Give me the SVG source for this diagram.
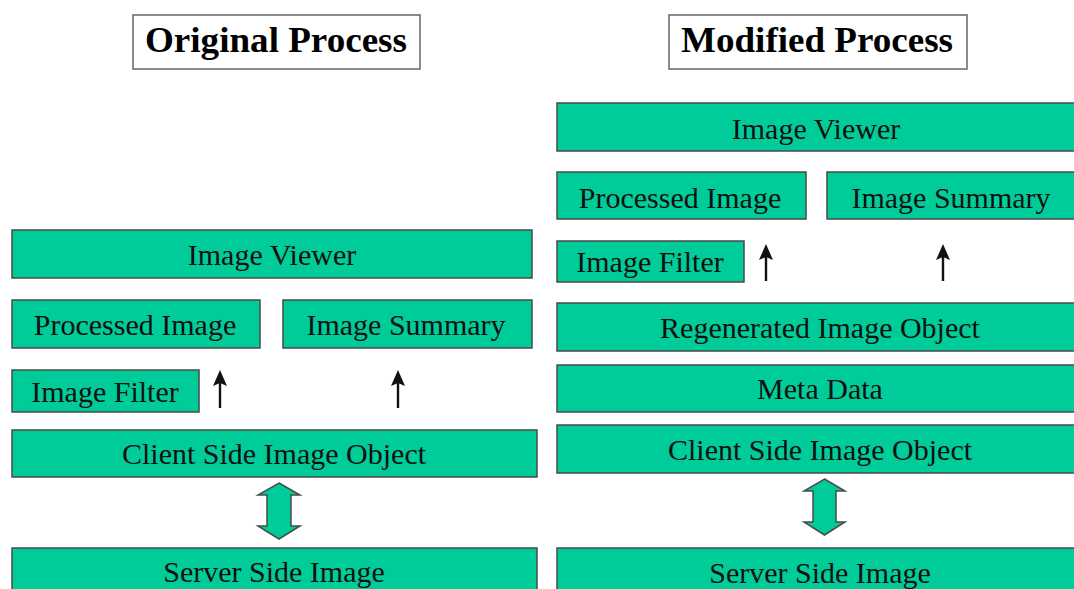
<svg xmlns="http://www.w3.org/2000/svg" width="1074" height="589" viewBox="0 0 1074 589">
<style>
.box{fill:#00CC99;stroke:#4a4a4a;stroke-width:1.5}
.title{fill:#fff;stroke:#666;stroke-width:1.5}
.t{font-family:"Liberation Serif","Times New Roman",serif;font-size:30px;fill:#111;text-anchor:middle}
.tt{font-family:"Liberation Serif","Times New Roman",serif;font-size:35px;font-weight:bold;fill:#000;text-anchor:middle}
.ar{stroke:#111;stroke-width:2.4;fill:none}
.head{fill:#111}
.dbl{fill:#00CC99;stroke:#4a4a4a;stroke-width:1.5}
</style>
<defs>
<path id="uphead" d="M0,0 L7,16 L0,13 L-7,16 Z"/>
</defs>
<rect width="1074" height="589" fill="#fff"/>

<g id="title-original"><rect class="title" x="133" y="15" width="287" height="54"/><text class="tt" x="276" y="52" textLength="262" lengthAdjust="spacingAndGlyphs">Original Process</text></g>
<g id="title-modified"><rect class="title" x="669" y="15" width="298" height="54"/><text class="tt" x="817" y="52" textLength="272" lengthAdjust="spacingAndGlyphs">Modified Process</text></g>

<!-- Original process -->
<g id="o-viewer"><rect class="box" x="12" y="230" width="520" height="48"/><text class="t" x="272" y="265">Image Viewer</text></g>
<g id="o-processed"><rect class="box" x="12" y="300" width="248" height="48"/><text class="t" x="135" y="335">Processed Image</text></g>
<g id="o-summary"><rect class="box" x="283" y="300" width="249" height="48"/><text class="t" x="406" y="335">Image Summary</text></g>
<g id="o-filter"><rect class="box" x="12" y="370" width="187" height="42"/><text class="t" x="105" y="402">Image Filter</text></g>
<g id="o-client"><rect class="box" x="12" y="430" width="525" height="47"/><text class="t" x="274" y="464">Client Side Image Object</text></g>
<g id="o-server"><rect class="box" x="12" y="548" width="525" height="50"/><text class="t" x="274" y="582">Server Side Image</text></g>

<!-- Modified process -->
<g id="m-viewer"><rect class="box" x="557" y="103" width="519" height="48"/><text class="t" x="816" y="139">Image Viewer</text></g>
<g id="m-processed"><rect class="box" x="557" y="172" width="249" height="47"/><text class="t" x="680" y="208">Processed Image</text></g>
<g id="m-summary"><rect class="box" x="827" y="172" width="250" height="47"/><text class="t" x="951" y="208">Image Summary</text></g>
<g id="m-filter"><rect class="box" x="557" y="241" width="187" height="41"/><text class="t" x="650" y="272">Image Filter</text></g>
<g id="m-regen"><rect class="box" x="557" y="303" width="526" height="48"/><text class="t" x="820" y="338">Regenerated Image Object</text></g>
<g id="m-meta"><rect class="box" x="557" y="365" width="526" height="47"/><text class="t" x="820" y="399">Meta Data</text></g>
<g id="m-client"><rect class="box" x="557" y="425" width="526" height="48"/><text class="t" x="820" y="460">Client Side Image Object</text></g>
<g id="m-server"><rect class="box" x="557" y="548" width="526" height="50"/><text class="t" x="820" y="583">Server Side Image</text></g>

<g id="connectors">
<line class="ar" x1="220" y1="408" x2="220" y2="380"/><use class="head" href="#uphead" x="220" y="370"/>
<line class="ar" x1="398" y1="408" x2="398" y2="380"/><use class="head" href="#uphead" x="398" y="370"/>
<line class="ar" x1="766" y1="281" x2="766" y2="254"/><use class="head" href="#uphead" x="766" y="244"/>
<line class="ar" x1="943" y1="281" x2="943" y2="254"/><use class="head" href="#uphead" x="943" y="244"/>
<path class="dbl" d="M279,483 L300,495 L291,495 L291,526 L300,526 L279,539 L258,526 L267,526 L267,495 L258,495 Z"/>
<path class="dbl" d="M824.5,479 L845,491 L836,491 L836,522 L845,522 L824.5,535 L804,522 L813,522 L813,491 L804,491 Z"/>
</g>
</svg>
